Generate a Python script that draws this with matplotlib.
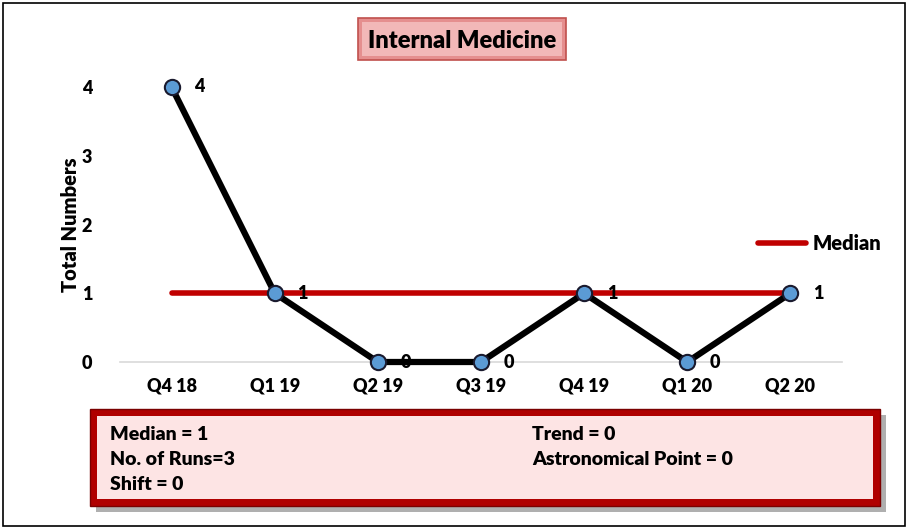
import matplotlib
matplotlib.use("Agg")
import matplotlib.pyplot as plt
from matplotlib.patches import Rectangle
import numpy as np

categories = ["Q4 18", "Q1 19", "Q2 19", "Q3 19", "Q4 19", "Q1 20", "Q2 20"]
values = [4, 1, 0, 0, 1, 0, 1]
median_value = 1
title = "Internal Medicine"
stats_left = ["Median = 1", "No. of Runs=3", "Shift = 0"]
stats_right = ["Trend = 0", "Astronomical Point = 0"]

plt.rcParams['font.family'] = ['Lato', 'DejaVu Sans']
WT = 'heavy'

W, H = 908, 529
fig = plt.figure(figsize=(W/100, H/100), dpi=100)

def fx(x): return x / W
def fy(y): return 1 - y / H

# figure border
fig.patches.append(Rectangle((fx(3), fy(526)), fx(902), 523/H, transform=fig.transFigure,
                             fill=False, edgecolor='black', linewidth=1.2))

ax = fig.add_axes([fx(120), fy(362), 722/W, 275/H])
x = np.arange(len(categories))
ax.set_xlim(-0.5, len(categories) - 0.5)
ax.set_ylim(0, 4)
for s in ['top', 'right', 'left']:
    ax.spines[s].set_visible(False)
ax.spines['bottom'].set_color('#d9d9d9')
ax.spines['bottom'].set_linewidth(1.2)
ax.set_xticks(x)
ax.set_xticklabels(categories, fontsize=13, fontweight=WT)
ax.set_yticks([0, 1, 2, 3, 4])
ax.set_yticklabels(['0', '1', '2', '3', '4'], fontsize=13, fontweight=WT)
ax.tick_params(axis='both', length=0)
ax.tick_params(axis='x', pad=11)
ax.tick_params(axis='y', pad=20)
ax.set_ylabel("Total Numbers", fontsize=14.5, fontweight=WT)
ax.yaxis.set_label_coords(fx(80), fy(225), transform=fig.transFigure)

ax.plot(x, [median_value]*len(x), color='#c00000', linewidth=4, solid_capstyle='round',
        label='Median', zorder=2, clip_on=False)
ax.plot(x, values, color='black', linewidth=4.5, zorder=3, clip_on=False)
ax.plot(x, values, linestyle='none', marker='o', markersize=11, markerfacecolor='#5b9bd5',
        markeredgecolor='#1a1a2e', markeredgewidth=1.5, zorder=4, clip_on=False)
for xi, v in zip(x, values):
    ax.annotate(str(v), (xi, v), xytext=(28, 0), textcoords='offset pixels',
                ha='center', va='center', fontsize=13, fontweight=WT, zorder=5)

leg = ax.legend(loc='upper left', bbox_to_anchor=(fx(748), fy(224)), bbox_transform=fig.transFigure,
                frameon=False, handlelength=2.4, handletextpad=0.3, borderpad=0,
                prop={'weight': WT, 'size': 14.5})
for line in leg.get_lines():
    line.set_linewidth(4)

# title box
fig.patches.append(Rectangle((fx(358), fy(60)), 208/W, 42/H, transform=fig.transFigure,
                             facecolor='#e58f8f', edgecolor='#c0504d', linewidth=1.2))
fig.patches.append(Rectangle((fx(362), fy(56)), 200/W, 34/H, transform=fig.transFigure,
                             facecolor='#f2b8b8', edgecolor='none'))
fig.text(fx(462), fy(41), title, ha='center', va='center', fontsize=17, fontweight=WT)

# stats box
fig.patches.append(Rectangle((fx(96), fy(512)), 790/W, 97/H, transform=fig.transFigure,
                             facecolor='#7a7a7a', edgecolor='none', alpha=0.6))
fig.patches.append(Rectangle((fx(90), fy(506)), 790/W, 97/H, transform=fig.transFigure,
                             facecolor='#b00000', edgecolor='#7a0000', linewidth=1))
fig.patches.append(Rectangle((fx(97), fy(499)), 776/W, 83/H, transform=fig.transFigure,
                             facecolor='#fde4e4', edgecolor='none'))
for i, s in enumerate(stats_left):
    fig.text(fx(110), fy(435 + i*24.5), s, ha='left', va='center', fontsize=14, fontweight=WT)
for i, s in enumerate(stats_right):
    fig.text(fx(532), fy(435 + i*24.5), s, ha='left', va='center', fontsize=14, fontweight=WT)

fig.savefig("out.png", dpi=100)
